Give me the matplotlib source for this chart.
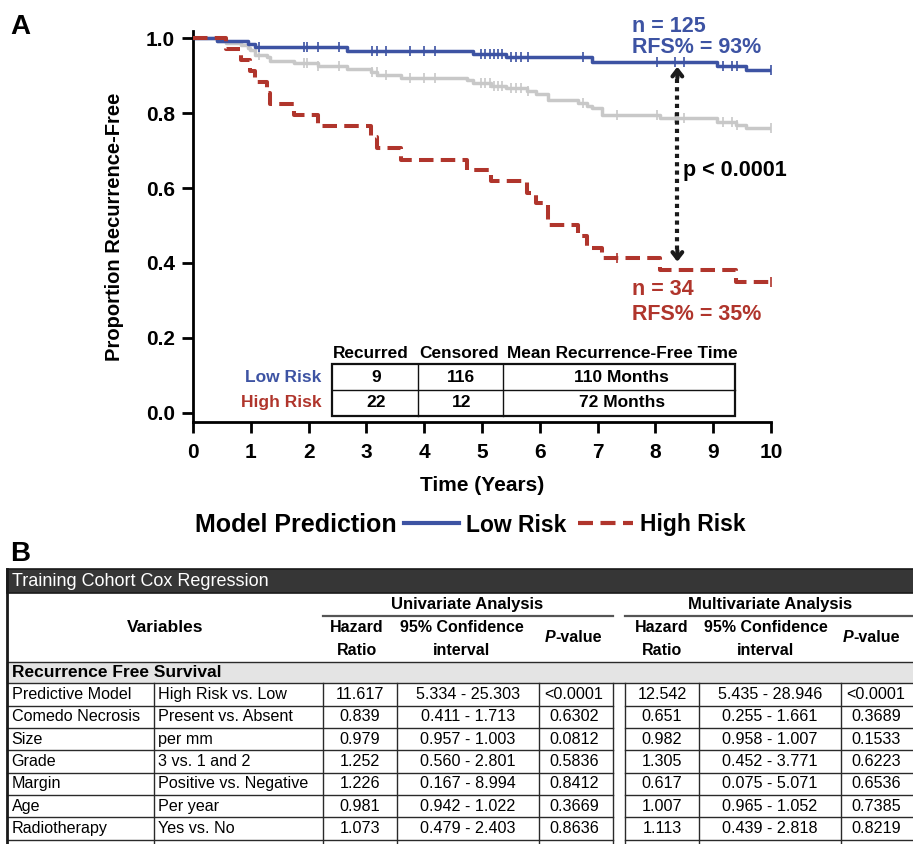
import numpy as np
import matplotlib
matplotlib.use("Agg")
import matplotlib.pyplot as plt
from matplotlib.lines import Line2D
from matplotlib.patches import Rectangle

plt.rcParams["font.family"] = ["Liberation Sans", "DejaVu Sans"]

BLUE = "#3d53a3"
RED = "#b0352c"
GRAY = "#c8c8c8"

# ---------------------------------------------------------
# Kaplan-Meier steps (years, proportion)
# ---------------------------------------------------------
low_t = [0, 0.41, 0.95, 1.07, 2.67, 4.84, 5.42, 6.90, 9.06, 9.56, 10.0]
low_s = [1.0, 0.993, 0.985, 0.978, 0.967, 0.957, 0.949, 0.937, 0.926, 0.915, 0.915]
low_cens = [1.15, 1.92, 1.98, 2.17, 2.52, 3.10, 3.18, 3.34, 3.75, 4.00, 4.18,
            4.98, 5.06, 5.13, 5.20, 5.27, 5.34, 5.50, 5.58, 5.68, 5.80, 6.74,
            8.02, 8.34, 8.49, 9.17, 9.32, 9.41, 10.0]

high_t = [0, 0.57, 0.83, 0.99, 1.07, 1.28, 1.33, 1.75, 2.17, 3.08, 3.19, 3.59,
          4.74, 5.16, 5.77, 5.93, 6.15, 6.66, 6.81, 7.07, 8.08, 9.39, 10.0]
high_s = [1.0, 0.971, 0.941, 0.912, 0.882, 0.853, 0.824, 0.794, 0.765, 0.735,
          0.706, 0.676, 0.647, 0.618, 0.588, 0.559, 0.500, 0.471, 0.441, 0.412,
          0.380, 0.348, 0.348]
high_cens = [7.33, 10.0]

all_t = [0, 0.41, 0.57, 0.83, 0.95, 0.99, 1.07, 1.28, 1.33, 1.75, 2.17, 2.67,
         3.08, 3.19, 3.59, 4.74, 4.84, 5.16, 5.42, 5.77, 5.93, 6.15, 6.66, 6.81,
         6.90, 7.07, 8.08, 9.06, 9.39, 9.56, 10.0]
all_s = [1.0, 0.994, 0.987, 0.981, 0.975, 0.968, 0.956, 0.950, 0.940, 0.933,
         0.925, 0.918, 0.910, 0.903, 0.895, 0.888, 0.880, 0.873, 0.866, 0.858,
         0.850, 0.835, 0.827, 0.820, 0.813, 0.795, 0.786, 0.777, 0.769, 0.761,
         0.761]
all_cens = [1.15, 1.92, 1.98, 2.17, 2.52, 3.10, 3.18, 3.34, 3.75, 4.00, 4.18,
            4.98, 5.06, 5.13, 5.20, 5.27, 5.34, 5.50, 5.58, 5.68, 5.80, 6.74,
            7.33, 8.02, 8.34, 8.49, 9.17, 9.32, 9.41, 10.0]

X_TICKS = [0, 1, 2, 3, 4, 5, 6, 7, 8, 9, 10]
Y_TICKS = [0.0, 0.2, 0.4, 0.6, 0.8, 1.0]

# inner summary table of panel A
summary_cols = ["Recurred", "Censored", "Mean Recurrence-Free Time"]
summary_rows = ["Low Risk", "High Risk"]
summary_vals = [["9", "116", "110 Months"], ["22", "12", "72 Months"]]

ARROW_X, ARROW_TOP, ARROW_BOT = 8.38, 0.924, 0.403

# ---------------------------------------------------------
# Panel B table content
# ---------------------------------------------------------
variables = ["Predictive Model", "Comedo Necrosis", "Size", "Grade", "Margin",
             "Age", "Radiotherapy"]
levels = ["High Risk vs. Low", "Present vs. Absent", "per mm", "3 vs. 1 and 2",
          "Positive vs. Negative", "Per year", "Yes vs. No"]
uni_hr = ["11.617", "0.839", "0.979", "1.252", "1.226", "0.981", "1.073"]
uni_ci = ["5.334 - 25.303", "0.411 - 1.713", "0.957 - 1.003", "0.560 - 2.801",
          "0.167 - 8.994", "0.942 - 1.022", "0.479 - 2.403"]
uni_p = ["<0.0001", "0.6302", "0.0812", "0.5836", "0.8412", "0.3669", "0.8636"]
multi_hr = ["12.542", "0.651", "0.982", "1.305", "0.617", "1.007", "1.113"]
multi_ci = ["5.435 - 28.946", "0.255 - 1.661", "0.958 - 1.007", "0.452 - 3.771",
            "0.075 - 5.071", "0.965 - 1.052", "0.439 - 2.818"]
multi_p = ["<0.0001", "0.3689", "0.1533", "0.6223", "0.6536", "0.7385", "0.8219"]


def surv_at(t, s, times):
    idx = np.searchsorted(np.asarray(t), np.asarray(times), side="right") - 1
    return np.asarray(s)[idx]


W, H = 913, 844
fig = plt.figure(figsize=(W / 100, H / 100), dpi=100)

# =========================================================
# Panel A: Kaplan-Meier
# =========================================================
ax = fig.add_axes([193 / W, 0.5, 578 / W, 0.4635])
dash = (0, (3.6, 1.8))

ax.step(all_t, all_s, where="post", color=GRAY, lw=2.5, zorder=2)
ax.plot(all_cens, surv_at(all_t, all_s, all_cens), ls="none", marker="|",
        ms=7, mew=1.2, color=GRAY, zorder=2, clip_on=False)
ax.step(low_t, low_s, where="post", color=BLUE, lw=2.5, zorder=3)
ax.plot(low_cens, surv_at(low_t, low_s, low_cens), ls="none", marker="|",
        ms=7, mew=1.2, color=BLUE, zorder=3, clip_on=False)
ax.step(high_t, high_s, where="post", color=RED, lw=2.9, ls=dash, zorder=4)
ax.plot(high_cens, surv_at(high_t, high_s, high_cens), ls="none", marker="|",
        ms=7, mew=1.2, color=RED, zorder=4, clip_on=False)

ax.set_xlim(0, 10)
ax.set_ylim(-0.025, 1.02)
for side in ["top", "right"]:
    ax.spines[side].set_visible(False)
for side in ["left", "bottom"]:
    ax.spines[side].set_linewidth(2.0)
ax.set_xticks(X_TICKS)
ax.set_xticklabels([str(v) for v in X_TICKS])
ax.set_yticks(Y_TICKS)
ax.set_yticklabels([f"{v:.1f}" for v in Y_TICKS])
ax.tick_params(axis="both", direction="out", length=8, width=2.0, labelsize=15)
ax.tick_params(axis="x", pad=7)
ax.tick_params(axis="y", pad=5)
for lbl in ax.get_xticklabels() + ax.get_yticklabels():
    lbl.set_fontweight("bold")
ax.set_xlabel("Time (Years)", fontsize=15, fontweight="bold", labelpad=10)
ax.set_ylabel("Proportion Recurrence-Free", fontsize=14.5, fontweight="bold",
              labelpad=16)

# dotted double arrow
ax.plot([ARROW_X, ARROW_X], [ARROW_BOT + 0.01, ARROW_TOP - 0.01], color="#1a1a1a",
        lw=3, ls=(0, (1, 1)), zorder=5)
for tip, tail in [(ARROW_TOP, ARROW_TOP - 0.03), (ARROW_BOT, ARROW_BOT + 0.03)]:
    ax.annotate("", xy=(ARROW_X, tip), xytext=(ARROW_X, tail),
                arrowprops=dict(arrowstyle="->,head_length=0.45,head_width=0.35",
                                lw=3, color="#1a1a1a", shrinkA=0, shrinkB=0),
                zorder=5)

ax.text(7.6, 1.032, "n = 125", color=BLUE, fontsize=15.5, fontweight="bold",
        va="center", clip_on=False)
ax.text(7.6, 0.976, "RFS% = 93%", color=BLUE, fontsize=15.5, fontweight="bold",
        va="center")
ax.text(7.6, 0.328, "n = 34", color=RED, fontsize=15.5, fontweight="bold",
        va="center")
ax.text(7.6, 0.261, "RFS% = 35%", color=RED, fontsize=15.5, fontweight="bold",
        va="center")
ax.text(8.48, 0.648, "p < 0.0001", color="black", fontsize=15.5,
        fontweight="bold", va="center")

# inner summary table
col_edges = [2.405, 3.893, 5.363, 9.377]
row_edges = [0.130, 0.0606, -0.008]
head_x = [3.07, 4.60, 7.43]
val_x = [3.17, 4.64, 7.42]
ax.add_patch(Rectangle((col_edges[0], row_edges[2]), col_edges[3] - col_edges[0],
                       row_edges[0] - row_edges[2], fill=False, lw=1.6,
                       ec="#111111", zorder=6))
for xe in col_edges[1:3]:
    ax.plot([xe, xe], [row_edges[2], row_edges[0]], color="#111111", lw=1.0, zorder=6)
ax.plot([col_edges[0], col_edges[3]], [row_edges[1], row_edges[1]], color="#111111",
        lw=1.0, zorder=6)
for hx, name in zip(head_x, summary_cols):
    ax.text(hx, 0.157, name, ha="center", va="center", fontsize=12.4,
            fontweight="bold")
row_y = [0.0945, 0.027]
for ry, name, color, vals in zip(row_y, summary_rows, [BLUE, RED], summary_vals):
    ax.text(2.227, ry, name, ha="right", va="center", fontsize=12.5,
            fontweight="bold", color=color)
    for vx, v in zip(val_x, vals):
        ax.text(vx, ry, v, ha="center", va="center", fontsize=12.5,
                fontweight="bold")

# legend row
fig.text(195 / W, 1 - 525 / H, "Model Prediction", fontsize=18,
         fontweight="bold", va="center")
handles = [Line2D([], [], color=BLUE, lw=3),
           Line2D([], [], color=RED, lw=3, ls=dash)]
fig.legend(handles, ["Low Risk", "High Risk"], loc="center left",
           bbox_to_anchor=(404 / W, 1 - 525 / H), ncol=2, frameon=False,
           prop={"weight": "bold", "size": 16.5}, handlelength=2.4,
           handletextpad=0.3, columnspacing=0.5, borderaxespad=0, borderpad=0)

fig.text(10 / W, 1 - 27 / H, "A", fontsize=20, fontweight="bold", va="center")
fig.text(10 / W, 1 - 554 / H, "B", fontsize=20, fontweight="bold", va="center")

# =========================================================
# Panel B: Cox regression table (pixel coordinates)
# =========================================================
tb = fig.add_axes([0, 0, 1, 1])
tb.set_xlim(0, W)
tb.set_ylim(H, 0)
tb.axis("off")
LC = "#2a2a2a"

# title bar
tb.add_patch(Rectangle((6.5, 569), W, 23.5, fc="#363636", ec="#1a1a1a", lw=1.2))
tb.text(11.5, 581, "Training Cohort Cox Regression", color="white",
        fontsize=13, va="center")

# header block
tb.text(164.7, 627, "Variables", ha="center", va="center", fontsize=12.5,
        fontweight="bold")
for gx, gname, gl, gr in [(467, "Univariate Analysis", 323, 613),
                          (770, "Multivariate Analysis", 625, W)]:
    tb.text(gx, 605, gname, ha="center", va="center", fontsize=12,
            fontweight="bold")
    tb.plot([gl, gr], [616, 616], color="#555555", lw=1.6)
for hr_x, ci_x, p_x in [(357, 462, 545), (662, 766, 843)]:
    tb.text(hr_x, 628, "Hazard", ha="center", va="center", fontsize=11.5,
            fontweight="bold")
    tb.text(hr_x, 650.7, "Ratio", ha="center", va="center", fontsize=11.5,
            fontweight="bold")
    tb.text(ci_x, 628, "95% Confidence", ha="center", va="center", fontsize=11.5,
            fontweight="bold")
    tb.text(ci_x, 650.7, "interval", ha="center", va="center", fontsize=11.5,
            fontweight="bold")
    p = tb.text(p_x, 638, "P", ha="left", va="center", fontsize=11.5,
                fontweight="bold", style="italic")
    tb.annotate("-value", xy=(1, 0), xycoords=p, ha="left", va="bottom",
                fontsize=11.5, fontweight="bold")

# section row
tb.add_patch(Rectangle((6.5, 661.7), W, 21.6, fc="#e4e4e4", ec=LC, lw=1.0))
tb.text(11.5, 672.5, "Recurrence Free Survival", va="center", fontsize=12.5,
        fontweight="bold")

# data rows
row_top = 683.3
row_h = 22.35
vlines = [154, 322.7, 396.7, 539.3, 613, 625, 698.7, 840.7]
cell_x = [359.7, 468, 574, 662, 769.7, 876]
for i in range(len(variables)):
    yc = row_top + row_h * (i + 0.5)
    yb = row_top + row_h * (i + 1)
    tb.plot([6.5, 613], [yb, yb], color=LC, lw=1.0)
    tb.plot([625, W], [yb, yb], color=LC, lw=1.0)
    tb.text(11.5, yc, variables[i], va="center", fontsize=11.6)
    tb.text(158, yc, levels[i], va="center", fontsize=11.6)
    vals = [uni_hr[i], uni_ci[i], uni_p[i], multi_hr[i], multi_ci[i], multi_p[i]]
    for cx, v in zip(cell_x, vals):
        tb.text(cx, yc, v, ha="center", va="center", fontsize=11.6)
for vx in vlines:
    tb.plot([vx, vx], [row_top, H], color=LC, lw=1.0)
tb.plot([6.7, 6.7], [569, H], color="#1a1a1a", lw=2.0)

fig.savefig("out.png", dpi=100)
